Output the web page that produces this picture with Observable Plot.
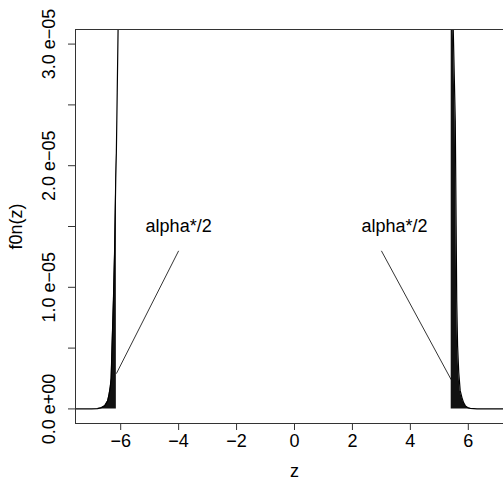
<!DOCTYPE html>
<html><head><meta charset="utf-8">
<script src="https://cdn.jsdelivr.net/npm/d3@7"></script>
<script src="https://cdn.jsdelivr.net/npm/@observablehq/plot@0.6"></script>
<style>html,body{margin:0;padding:0;overflow:hidden;background:#fff} svg{max-width:none !important;}</style>
</head><body><div id="chart"></div>
<script>
// density curve f0n(z) (f in units of 1e-5)
const zValues = [-8.0, -7.0, -6.8, -6.69, -6.55, -6.45, -6.40, -6.36, -6.33, -6.30, -6.25, -6.21, -6.17, -6.15, -6.12, -6.09, -6.05, -6.0, -5.5,
                 5.0, 5.41, 5.45, 5.48, 5.55, 5.58, 5.60, 5.63, 5.67, 5.72, 5.78, 5.84, 5.90, 6.0, 6.07, 6.3, 8.0];
const fValues = [0, 0, 0.003, 0.008, 0.025, 0.066, 0.12, 0.18, 0.25, 0.5, 0.9, 1.3, 1.9, 2.1, 2.6, 3.12, 3.8, 4.6, 25,
                 25, 4.2, 3.6, 3.12, 2.37, 1.5, 0.89, 0.52, 0.30, 0.15, 0.093, 0.05, 0.025, 0.008, 0.004, 0, 0];
const cutLeft = -6.15;
const cutRight = 5.41;

const xTicks = [-6, -4, -2, 0, 2, 4, 6];
const xTickLabels = ["−6", "−4", "−2", "0", "2", "4", "6"];
const yTicks = [0, 0.5e-5, 1e-5, 1.5e-5, 2e-5, 2.5e-5, 3e-5];
const yLabelValues = [0, 1e-5, 2e-5, 3e-5];
const yTickLabels = ["0.0 e+00", "1.0 e−05", "2.0 e−05", "3.0 e−05"];

const annotX = [-4, 3.45];
const annotY = [1.5e-5, 1.5e-5];
const annotText = ["alpha*/2", "alpha*/2"];
const segX1 = [-4, 3];
const segY1 = [1.3e-5, 1.3e-5];
const segX2 = [-6.15, 5.41];
const segY2 = [0.29e-5, 0.24e-5];

const curve = zValues.map((z, i) => ({z, f: fValues[i] * 1e-5}));
const tailL = curve.filter(d => d.z <= cutLeft);
const tailR = curve.filter(d => d.z >= cutRight);
const annots = annotX.map((x, i) => ({x, y: annotY[i], t: annotText[i]}));
const segs = segX1.map((x1, i) => ({x1, y1: segY1[i], x2: segX2[i], y2: segY2[i]}));

const FS = 18;
const chart = Plot.plot({
  width: 530, height: 481,
  marginLeft: 75, marginRight: 17, marginTop: 29, marginBottom: 58,
  x: {domain: [-7.56, 7.56]},
  y: {domain: [-0.12e-5, 3.12e-5]},
  style: {fontFamily: "'Liberation Sans', Arial, sans-serif", fontSize: FS + "px", color: "#000", background: "#fff", maxWidth: "none"},
  marks: [
    Plot.areaY(tailL, {x: "z", y1: 0, y2: "f", fill: "#111", clip: true}),
    Plot.areaY(tailR, {x: "z", y1: 0, y2: "f", fill: "#111", clip: true}),
    Plot.line(curve, {x: "z", y: "f", stroke: "#000", strokeWidth: 1.2, clip: true}),
    Plot.link(segs, {x1: "x1", y1: "y1", x2: "x2", y2: "y2", stroke: "#000", strokeWidth: 0.8}),
    Plot.text(annots, {x: "x", y: "y", text: "t", fontSize: FS, lineAnchor: "middle", fill: "#000"}),
    Plot.frame({stroke: "#333"}),
    Plot.axisX({ticks: xTicks, tickSize: 7, tickPadding: 4, fontSize: FS, label: null,
                tickFormat: d => xTickLabels[xTicks.indexOf(d)], stroke: "#333"}),
    Plot.axisY({ticks: yTicks, tickSize: 7, label: null, tickFormat: () => "", stroke: "#333"}),
    Plot.text(yLabelValues, {y: d => d, text: (d, i) => yTickLabels[i], frameAnchor: "left", dx: -21,
                             rotate: -90, lineAnchor: "bottom", textAnchor: "middle", fontSize: FS}),
    Plot.text(["z"], {text: d => d, frameAnchor: "bottom", dy: 53, lineAnchor: "bottom", fontSize: FS}),
    Plot.text(["f0n(z)"], {text: d => d, frameAnchor: "left", dx: -54, rotate: -90, lineAnchor: "bottom", textAnchor: "middle", fontSize: FS})
  ]
});
chart.style.maxWidth = "none";
chart.style.height = "481px";
document.getElementById("chart").appendChild(chart);
</script>
</body></html>
